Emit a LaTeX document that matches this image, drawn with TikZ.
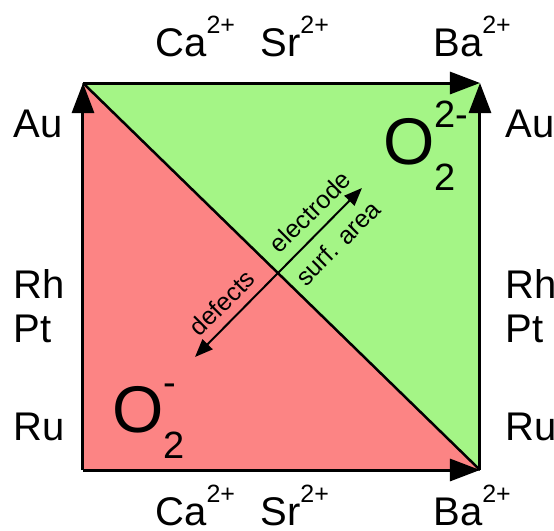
\documentclass[tikz,border=0pt]{standalone}
\usepackage{fontspec}
\setmainfont{Liberation Sans}
\usetikzlibrary{arrows.meta}
\definecolor{redzone}{RGB}{252,132,132}
\definecolor{greenzone}{RGB}{164,245,134}
\newcommand{\charge}[1]{\raisebox{11.5pt}{\fontsize{12.5}{12.5}\selectfont #1}}
\newcommand{\oxy}[1]{O\rlap{\raisebox{18.5pt}{\fontsize{19}{19}\selectfont #1}}\raisebox{-13pt}{\fontsize{19}{19}\selectfont 2}}

\begin{document}
\begin{tikzpicture}[x=0.5pt, y=-0.5pt,
    metal/.style={anchor=base west, inner sep=0pt, font=\fontsize{20}{20}\selectfont},
    ion/.style={anchor=base west, inner sep=0pt, font=\fontsize{20}{20}\selectfont},
    species/.style={anchor=base west, inner sep=0pt, font=\fontsize{33}{33}\selectfont},
    trend/.style={inner sep=0pt, font=\fontsize{12.5}{12.5}\selectfont, rotate=45},
    edgearrow/.style={line width=1.5pt, -{Triangle[length=15pt, width=11pt]}},
    axisarrow/.style={line width=1pt, {Triangle[length=9pt, width=7pt]}-{Triangle[length=9pt, width=7pt]}}]
    \useasboundingbox (0,0) rectangle (554,531);
    \coordinate (tl) at (83,83);
    \coordinate (tr) at (480,83);
    \coordinate (bl) at (83,470);
    \coordinate (br) at (480,470);
    \fill[redzone] (tl) -- (bl) -- (br) -- cycle;
    \fill[greenzone] (tl) -- (tr) -- (br) -- cycle;
    \draw[line width=1.25pt] (tl) -- (br);
    \draw[edgearrow] (bl) -- (tl);
    \draw[edgearrow] (tl) -- (tr);
    \draw[edgearrow] (br) -- (tr);
    \draw[edgearrow] (bl) -- (br);
    % double arrow across the diagonal
    \coordinate (low) at (195,357);
    \coordinate (high) at (362,188);
    \draw[axisarrow] (low) -- (high);
    \node[trend] (electrode) at (310,212) {electrode};
    \node[trend] (surf) at (338,243) {surf. area};
    \node[trend] (defects) at (222,303) {defects};
    % species
    \node[species] (superoxo) at (112,432) {\oxy{-}};
    \node[species] (peroxo) at (383,164) {\oxy{2-}};
    % cations
    \node[ion] (ca top) at (155,56) {Ca\charge{2+}};
    \node[ion] (sr top) at (260,56) {Sr\charge{2+}};
    \node[ion] (ba top) at (433,56) {Ba\charge{2+}};
    \node[ion] (ca bot) at (155,525) {Ca\charge{2+}};
    \node[ion] (sr bot) at (260,525) {Sr\charge{2+}};
    \node[ion] (ba bot) at (433,525) {Ba\charge{2+}};
    % electrodes
    \foreach \side/\x in {l/13, r/505} {
      \node[metal] (au \side) at (\x,137) {Au};
      \node[metal] (rh \side) at (\x,298) {Rh};
      \node[metal] (pt \side) at (\x,342) {Pt};
      \node[metal] (ru \side) at (\x,440) {Ru};
    }
\end{tikzpicture}
\end{document}
